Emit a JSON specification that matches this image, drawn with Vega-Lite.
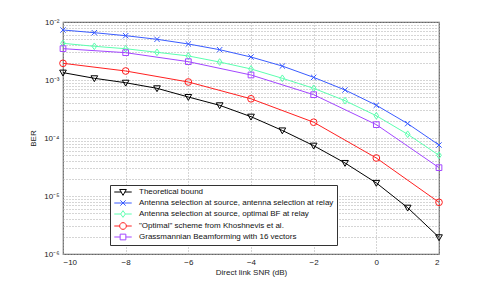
{
  "$schema": "https://vega.github.io/schema/vega-lite/v6.json",
  "width": 376,
  "height": 232,
  "autosize": {"type": "none"},
  "padding": {"left": 63, "top": 22, "right": 46, "bottom": 33},
  "background": "white",
  "config": {
    "font": "Liberation Sans",
    "view": {"stroke": "#666", "strokeWidth": 1.2},
    "axis": {"labelFontSize": 8, "titleFontSize": 8, "labelColor": "#222", "titleColor": "#222", "titleFontWeight": "normal", "domain": false, "ticks": false, "gridColor": "#aaa", "gridDash": [1, 2], "gridWidth": 1},
    "legend": {"title": null, "orient": "none", "legendX": 47, "legendY": 163, "fillColor": "white", "strokeColor": "#333", "padding": 3, "labelFontSize": 8, "labelColor": "#111", "rowPadding": 0, "symbolOffset": 6, "labelOffset": 12, "symbolStrokeWidth": 1, "symbolSize": 45, "labelLimit": 400}
  },
  "data": {"values": [
    {"series": "Theoretical bound", "x": -10, "ber": 1.34e-3},
    {"series": "Theoretical bound", "x": -9, "ber": 1.07e-3},
    {"series": "Theoretical bound", "x": -8, "ber": 8.97e-4},
    {"series": "Theoretical bound", "x": -7, "ber": 7.19e-4},
    {"series": "Theoretical bound", "x": -6, "ber": 5.09e-4},
    {"series": "Theoretical bound", "x": -5, "ber": 3.66e-4},
    {"series": "Theoretical bound", "x": -4, "ber": 2.33e-4},
    {"series": "Theoretical bound", "x": -3, "ber": 1.35e-4},
    {"series": "Theoretical bound", "x": -2, "ber": 7.37e-5},
    {"series": "Theoretical bound", "x": -1, "ber": 3.71e-5},
    {"series": "Theoretical bound", "x": 0, "ber": 1.68e-5},
    {"series": "Theoretical bound", "x": 1, "ber": 6.28e-6},
    {"series": "Theoretical bound", "x": 2, "ber": 1.94e-6},
    {"series": "Antenna selection at source, antenna selection at relay", "x": -10, "ber": 7.28e-3},
    {"series": "Antenna selection at source, antenna selection at relay", "x": -9, "ber": 6.54e-3},
    {"series": "Antenna selection at source, antenna selection at relay", "x": -8, "ber": 5.81e-3},
    {"series": "Antenna selection at source, antenna selection at relay", "x": -7, "ber": 5.03e-3},
    {"series": "Antenna selection at source, antenna selection at relay", "x": -6, "ber": 4.18e-3},
    {"series": "Antenna selection at source, antenna selection at relay", "x": -5, "ber": 3.33e-3},
    {"series": "Antenna selection at source, antenna selection at relay", "x": -4, "ber": 2.49e-3},
    {"series": "Antenna selection at source, antenna selection at relay", "x": -3, "ber": 1.74e-3},
    {"series": "Antenna selection at source, antenna selection at relay", "x": -2, "ber": 1.11e-3},
    {"series": "Antenna selection at source, antenna selection at relay", "x": -1, "ber": 6.73e-4},
    {"series": "Antenna selection at source, antenna selection at relay", "x": 0, "ber": 3.67e-4},
    {"series": "Antenna selection at source, antenna selection at relay", "x": 1, "ber": 1.77e-4},
    {"series": "Antenna selection at source, antenna selection at relay", "x": 2, "ber": 7.57e-5},
    {"series": "Antenna selection at source, optimal BF at relay", "x": -10, "ber": 4.29e-3},
    {"series": "Antenna selection at source, optimal BF at relay", "x": -9, "ber": 3.81e-3},
    {"series": "Antenna selection at source, optimal BF at relay", "x": -8, "ber": 3.46e-3},
    {"series": "Antenna selection at source, optimal BF at relay", "x": -7, "ber": 3.0e-3},
    {"series": "Antenna selection at source, optimal BF at relay", "x": -6, "ber": 2.6e-3},
    {"series": "Antenna selection at source, optimal BF at relay", "x": -5, "ber": 2.04e-3},
    {"series": "Antenna selection at source, optimal BF at relay", "x": -4, "ber": 1.55e-3},
    {"series": "Antenna selection at source, optimal BF at relay", "x": -3, "ber": 1.07e-3},
    {"series": "Antenna selection at source, optimal BF at relay", "x": -2, "ber": 7.19e-4},
    {"series": "Antenna selection at source, optimal BF at relay", "x": -1, "ber": 4.4e-4},
    {"series": "Antenna selection at source, optimal BF at relay", "x": 0, "ber": 2.42e-4},
    {"series": "Antenna selection at source, optimal BF at relay", "x": 1, "ber": 1.16e-4},
    {"series": "Antenna selection at source, optimal BF at relay", "x": 2, "ber": 5.03e-5},
    {"series": "\"Optimal\" scheme from Khoshnevis et al.", "x": -10, "ber": 1.94e-3},
    {"series": "\"Optimal\" scheme from Khoshnevis et al.", "x": -8, "ber": 1.43e-3},
    {"series": "\"Optimal\" scheme from Khoshnevis et al.", "x": -6, "ber": 9.24e-4},
    {"series": "\"Optimal\" scheme from Khoshnevis et al.", "x": -4, "ber": 4.74e-4},
    {"series": "\"Optimal\" scheme from Khoshnevis et al.", "x": -2, "ber": 1.87e-4},
    {"series": "\"Optimal\" scheme from Khoshnevis et al.", "x": 0, "ber": 4.52e-5},
    {"series": "\"Optimal\" scheme from Khoshnevis et al.", "x": 2, "ber": 7.78e-6},
    {"series": "Grassmannian Beamforming with 16 vectors", "x": -10, "ber": 3.47e-3},
    {"series": "Grassmannian Beamforming with 16 vectors", "x": -8, "ber": 2.96e-3},
    {"series": "Grassmannian Beamforming with 16 vectors", "x": -6, "ber": 2.07e-3},
    {"series": "Grassmannian Beamforming with 16 vectors", "x": -4, "ber": 1.22e-3},
    {"series": "Grassmannian Beamforming with 16 vectors", "x": -2, "ber": 5.58e-4},
    {"series": "Grassmannian Beamforming with 16 vectors", "x": 0, "ber": 1.7e-4},
    {"series": "Grassmannian Beamforming with 16 vectors", "x": 2, "ber": 3.08e-5}
  ]},
  "encoding": {
    "x": {"field": "x", "type": "quantitative", "scale": {"domain": [-10, 2], "nice": false, "zero": false},
      "axis": {"title": "Direct link SNR (dB)", "values": [-10, -8, -6, -4, -2, 0, 2], "labelPadding": 4, "titlePadding": 2}},
    "y": {"field": "ber", "type": "quantitative", "scale": {"type": "log", "domain": [1e-6, 1e-2], "nice": false},
      "axis": {"title": "BER", "titlePadding": 6,
        "values": [1e-6,2e-6,3e-6,4e-6,5e-6,6e-6,7e-6,8e-6,9e-6,1e-5,2e-5,3e-5,4e-5,5e-5,6e-5,7e-5,8e-5,9e-5,1e-4,2e-4,3e-4,4e-4,5e-4,6e-4,7e-4,8e-4,9e-4,1e-3,2e-3,3e-3,4e-3,5e-3,6e-3,7e-3,8e-3,9e-3,1e-2],
        "labelExpr": "abs(log(datum.value)/LN10 - round(log(datum.value)/LN10)) < 0.001 ? '10' + ['⁻⁶','⁻⁵','⁻⁴','⁻³','⁻²'][round(log(datum.value)/LN10)+6] : ''",
        "labelPadding": 4}}
  },
  "layer": [
    {
      "mark": {"type": "line", "strokeWidth": 1},
      "encoding": {
        "color": {"field": "series", "type": "nominal", "legend": null,
          "scale": {"domain": ["Theoretical bound", "Antenna selection at source, antenna selection at relay", "Antenna selection at source, optimal BF at relay", "\"Optimal\" scheme from Khoshnevis et al.", "Grassmannian Beamforming with 16 vectors"],
            "range": ["#000000", "#3a5cff", "#5cffb0", "#ff2020", "#a347ff"]}}
      }
    },
    {
      "mark": {"type": "point", "filled": false, "size": 45, "strokeWidth": 1, "opacity": 1},
      "encoding": {
        "color": {"field": "series", "type": "nominal", "legend": null,
          "scale": {"domain": ["Theoretical bound", "Antenna selection at source, antenna selection at relay", "Antenna selection at source, optimal BF at relay", "\"Optimal\" scheme from Khoshnevis et al.", "Grassmannian Beamforming with 16 vectors"],
            "range": ["#000000", "#3a5cff", "#5cffb0", "#ff2020", "#a347ff"]}},
        "shape": {"field": "series", "type": "nominal", "legend": null,
          "scale": {"domain": ["Theoretical bound", "Antenna selection at source, antenna selection at relay", "Antenna selection at source, optimal BF at relay", "\"Optimal\" scheme from Khoshnevis et al.", "Grassmannian Beamforming with 16 vectors"],
            "range": ["M-1,-0.75L1,-0.75L0,1Z", "M-0.8,-0.8L0.8,0.8M-0.8,0.8L0.8,-0.8", "M0,-1L0.7,0L0,1L-0.7,0Z", "circle", "M-0.85,-0.85L0.85,-0.85L0.85,0.85L-0.85,0.85Z"]}}
      }
    },
    {
      "transform": [{"filter": "datum.x > 100"}],
      "mark": {"type": "point", "filled": false, "size": 45, "strokeWidth": 1, "opacity": 1},
      "encoding": {
        "color": {"field": "series", "type": "nominal",
          "scale": {"domain": ["Theoretical bound", "Antenna selection at source, antenna selection at relay", "Antenna selection at source, optimal BF at relay", "\"Optimal\" scheme from Khoshnevis et al.", "Grassmannian Beamforming with 16 vectors"],
            "range": ["#000000", "#3a5cff", "#5cffb0", "#ff2020", "#a347ff"]}},
        "shape": {"field": "series", "type": "nominal",
          "scale": {"domain": ["Theoretical bound", "Antenna selection at source, antenna selection at relay", "Antenna selection at source, optimal BF at relay", "\"Optimal\" scheme from Khoshnevis et al.", "Grassmannian Beamforming with 16 vectors"],
            "range": ["M-2.6,0L-0.5,0M0.5,0L2.6,0M-1,-0.75L1,-0.75L0,1Z", "M-2.6,0L2.6,0M-0.8,-0.8L0.8,0.8M-0.8,0.8L0.8,-0.8", "M-2.6,0L-0.7,0M0.7,0L2.6,0M0,-1L0.7,0L0,1L-0.7,0Z", "M-2.6,0L-1,0M1,0L2.6,0M1,0A1,1,0,1,1,-1,0A1,1,0,1,1,1,0Z", "M-2.6,0L-0.85,0M0.85,0L2.6,0M-0.85,-0.85L0.85,-0.85L0.85,0.85L-0.85,0.85Z"]}}
      }
    }
  ],
  "resolve": {"scale": {"shape": "independent", "color": "independent"}}
}
